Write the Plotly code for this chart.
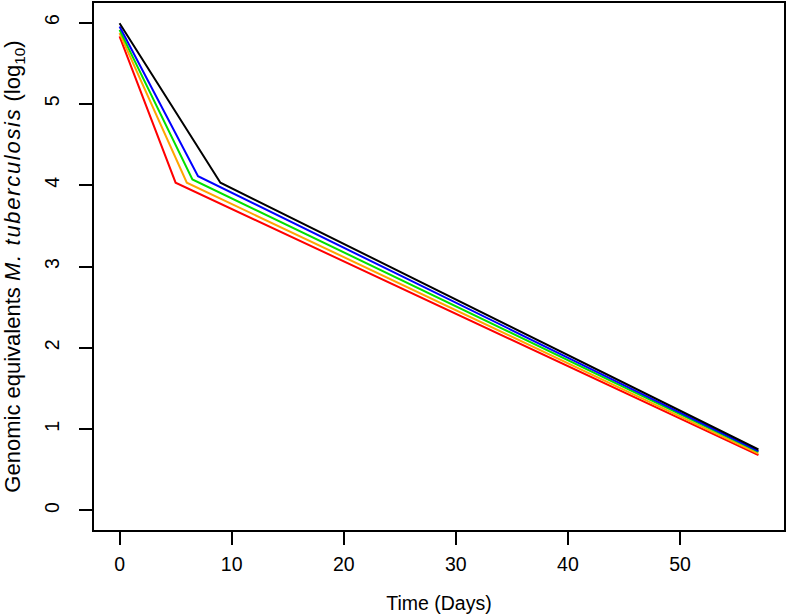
import plotly.graph_objects as go

# Piecewise curves: day 0, breakpoint day, day 57
red_days = [0, 5, 57]
red_vals = [5.83, 4.03, 0.68]
orange_days = [0, 6, 57]
orange_vals = [5.87, 4.03, 0.70]
green_days = [0, 6.5, 57]
green_vals = [5.91, 4.07, 0.72]
blue_days = [0, 7, 57]
blue_vals = [5.95, 4.11, 0.73]
black_days = [0, 9, 57]
black_vals = [5.99, 4.03, 0.75]

x_ticks = [0, 10, 20, 30, 40, 50]
y_ticks = [0, 1, 2, 3, 4, 5, 6]

series = [
    (red_days, red_vals, "#FF0000"),
    (orange_days, orange_vals, "#FFA500"),
    (green_days, green_vals, "#00E000"),
    (blue_days, blue_vals, "#0000FF"),
    (black_days, black_vals, "#000000"),
]

fig = go.Figure()
for d, v, c in series:
    fig.add_trace(go.Scatter(x=d, y=v, mode="lines",
                             line=dict(color=c, width=2), showlegend=False,
                             hoverinfo="skip"))

font = dict(family="Liberation Sans, Arial, sans-serif", size=19.5, color="#000")
yfont = dict(family="Liberation Sans, Arial, sans-serif", size=22, color="#000")

fig.update_layout(
    width=787, height=615,
    margin=dict(l=94, r=1, t=3, b=85),
    paper_bgcolor="white", plot_bgcolor="white",
    font=font,
    xaxis=dict(range=[-2.28, 59.28], tickvals=x_ticks, ticks="outside",
               ticklen=13, tickwidth=2, tickcolor="#000",
               showline=True, linecolor="#000", linewidth=2, mirror=True,
               showgrid=False, zeroline=False, ticklabelstandoff=3,
               title=dict(text="Time (Days)", standoff=22, font=font)),
    yaxis=dict(range=[-0.24, 6.24], tickvals=y_ticks, ticks="outside",
               ticklen=13, tickwidth=2, tickcolor="#000", tickangle=-90,
               showline=True, linecolor="#000", linewidth=2, mirror=True,
               showgrid=False, zeroline=False, ticklabelstandoff=12,
               title=dict(text="Genomic equivalents <i><span style=\"letter-spacing:1.7px\">M. tuberculosis</span></i> (log<sub>10</sub>)",
                          standoff=17, font=yfont)),
)

fig.write_html("out.html", config={"displayModeBar": False},
               post_script="document.body.style.margin='0';document.body.style.overflow='hidden';")
